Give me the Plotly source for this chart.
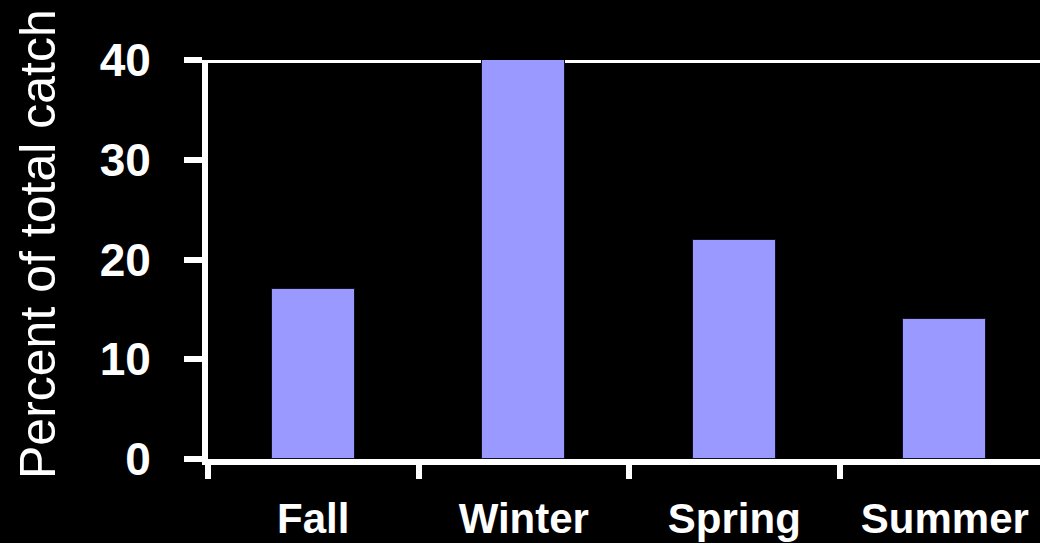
import plotly.graph_objects as go

seasons = ["Fall", "Winter", "Spring", "Summer"]
percent_catch = [17, 40, 22, 14]
y_ticks = [0, 10, 20, 30, 40]

fig = go.Figure()
fig.add_trace(go.Bar(
    x=seasons, y=percent_catch, width=0.395,
    marker=dict(color="#9999FF", line=dict(color="#111122", width=1)),
))

fig.add_shape(type="line", xref="paper", yref="y", x0=-0.022, x1=1, y0=40, y1=40,
              line=dict(color="white", width=6), layer="below")

fig.add_annotation(text="Percent of total catch", xref="paper", yref="paper",
                   x=(38 - 208) / 832, y=(459 - 244) / 399, textangle=-90,
                   showarrow=False, xanchor="center", yanchor="middle",
                   font=dict(family="Liberation Sans", size=50, color="white"))

fig.update_layout(
    width=1040, height=543,
    margin=dict(l=208, r=0, t=60, b=84),
    paper_bgcolor="black", plot_bgcolor="black",
    showlegend=False, bargap=0,
    font=dict(family="Liberation Sans", color="white"),
)
fig.update_xaxes(
    type="category", range=[-0.5, 3.452], tickson="boundaries",
    showline=True, linecolor="white", linewidth=6,
    ticks="outside", tickcolor="white", tickwidth=6, ticklen=14,
    tickfont=dict(family="Liberation Sans", size=42, color="white", weight="bold"),
    ticklabelstandoff=18, showgrid=False, zeroline=False,
)
fig.update_yaxes(
    range=[0, 40], tickvals=y_ticks, ticktext=[str(v) for v in y_ticks],
    showline=True, linecolor="white", linewidth=6,
    ticks="outside", tickcolor="white", tickwidth=6, ticklen=18,
    tickfont=dict(family="Liberation Sans", size=46, color="white", weight="bold"),
    ticklabelstandoff=24, showgrid=False, zeroline=False,
)

fig.write_html("out.html")
